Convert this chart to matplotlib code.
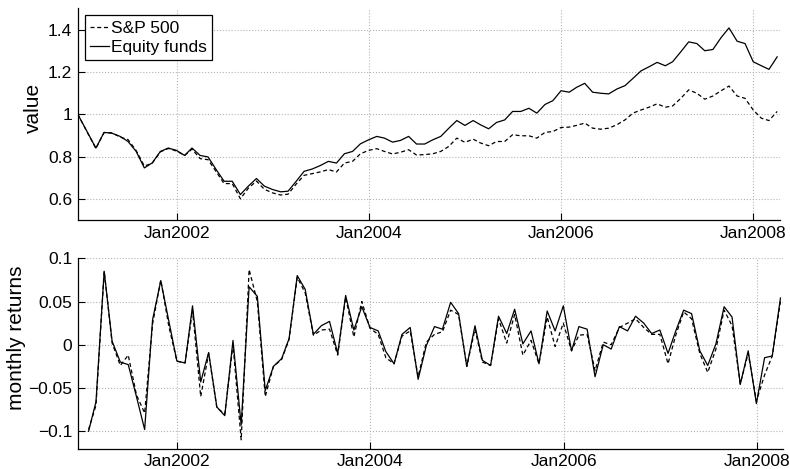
import numpy as np
import pandas as pd
import matplotlib
matplotlib.use("Agg")
import matplotlib.pyplot as plt
import matplotlib.dates as mdates
import matplotlib.ticker as mticker

plt.rcParams['font.family'] = ['Liberation Sans', 'DejaVu Sans']
plt.rcParams['font.size'] = 12.5

# dates: start value + month ends Jan 2001 .. Mar 2008
start_date = pd.Timestamp("2000-12-21")
ret_dates = pd.date_range("2001-01-31", "2008-03-31", freq="ME")
val_dates = pd.DatetimeIndex([start_date]).append(ret_dates)

# cumulative value
fund_value = [1.000, 0.905, 0.840, 0.914, 0.910, 0.895, 0.871, 0.824, 0.746, 0.770,
              0.824, 0.840, 0.829, 0.805, 0.840, 0.805, 0.798, 0.738, 0.683, 0.683,
              0.620, 0.660, 0.696, 0.660, 0.644, 0.633, 0.636, 0.683, 0.730, 0.741,
              0.757, 0.777, 0.769, 0.813, 0.824, 0.860, 0.879, 0.895, 0.887, 0.868,
              0.876, 0.895, 0.859, 0.859, 0.879, 0.895, 0.934, 0.970, 0.947, 0.970,
              0.950, 0.931, 0.961, 0.973, 1.013, 1.013, 1.028, 1.005, 1.046, 1.064,
              1.111, 1.104, 1.127, 1.146, 1.104, 1.099, 1.096, 1.119, 1.135, 1.169,
              1.205, 1.224, 1.245, 1.229, 1.248, 1.295, 1.342, 1.334, 1.300, 1.306,
              1.362, 1.408, 1.345, 1.334, 1.248, 1.229, 1.212, 1.271]
sp_value = [1.000, 0.903, 0.838, 0.913, 0.912, 0.892, 0.880, 0.828, 0.755, 0.768,
            0.822, 0.838, 0.826, 0.805, 0.835, 0.790, 0.785, 0.728, 0.672, 0.672,
            0.600, 0.650, 0.684, 0.645, 0.628, 0.618, 0.622, 0.670, 0.711, 0.719,
            0.727, 0.738, 0.727, 0.769, 0.777, 0.813, 0.829, 0.837, 0.824, 0.812,
            0.820, 0.832, 0.807, 0.809, 0.813, 0.824, 0.848, 0.887, 0.867, 0.882,
            0.864, 0.851, 0.871, 0.871, 0.903, 0.898, 0.898, 0.887, 0.914, 0.918,
            0.937, 0.939, 0.947, 0.958, 0.934, 0.929, 0.934, 0.950, 0.973, 1.005,
            1.020, 1.033, 1.049, 1.033, 1.039, 1.075, 1.115, 1.099, 1.071, 1.086,
            1.111, 1.133, 1.086, 1.075, 1.020, 0.981, 0.970, 1.013]

# monthly returns
fund_ret = [-0.100, -0.066, 0.085, 0.004, -0.020, -0.023, -0.060, -0.098, 0.029, 0.074,
            0.028, -0.019, -0.021, 0.045, -0.043, -0.009, -0.072, -0.082, 0.005, -0.093,
            0.067, 0.056, -0.053, -0.025, -0.016, 0.007, 0.080, 0.064, 0.012, 0.022,
            0.027, -0.010, 0.057, 0.017, 0.044, 0.020, 0.016, -0.008, -0.022, 0.012,
            0.020, -0.040, -0.001, 0.021, 0.018, 0.049, 0.036, -0.025, 0.022, -0.018,
            -0.024, 0.033, 0.013, 0.041, 0.001, 0.016, -0.022, 0.039, 0.016, 0.045,
            -0.007, 0.021, 0.018, -0.037, 0.000, -0.005, 0.021, 0.016, 0.033, 0.025,
            0.013, 0.017, -0.010, 0.015, 0.040, 0.036, -0.007, -0.024, 0.001, 0.044,
            0.032, -0.046, -0.007, -0.068, -0.015, -0.013, 0.054]
sp_ret = [-0.098, -0.070, 0.085, 0.002, -0.024, -0.012, -0.058, -0.079, 0.024, 0.075,
          0.022, -0.019, -0.021, 0.040, -0.060, -0.010, -0.073, -0.080, 0.000, -0.110,
          0.087, 0.050, -0.060, -0.025, -0.017, 0.006, 0.078, 0.060, 0.011, 0.017,
          0.018, -0.012, 0.055, 0.009, 0.050, 0.019, 0.012, -0.015, -0.022, 0.010,
          0.016, -0.037, 0.003, 0.012, 0.015, 0.040, 0.035, -0.025, 0.018, -0.020,
          -0.024, 0.030, 0.002, 0.035, -0.012, 0.005, -0.022, 0.032, -0.002, 0.025,
          -0.007, 0.011, 0.012, -0.030, 0.003, 0.000, 0.020, 0.025, 0.030, 0.020,
          0.012, 0.012, -0.022, 0.010, 0.038, 0.030, -0.010, -0.032, -0.005, 0.040,
          0.022, -0.045, -0.010, -0.065, -0.035, -0.013, 0.050]

xlim = (pd.Timestamp("2000-12-21"), pd.Timestamp("2008-04-11"))
dash = (0, (3.2, 2.2))

fig = plt.figure(figsize=(7.9, 4.69), dpi=100)
ax1 = fig.add_axes([0.0984, 0.531, 0.889, 0.451])
ax2 = fig.add_axes([0.0984, 0.0437, 0.8932, 0.4056])

ax1.plot(val_dates, sp_value, color='k', lw=0.9, ls=dash, label='S&P 500')
ax1.plot(val_dates, fund_value, color='k', lw=0.9, label='Equity funds')
ax2.plot(ret_dates, sp_ret, color='k', lw=0.9, ls=dash)
ax2.plot(ret_dates, fund_ret, color='k', lw=0.9)

ax1.set_ylim(0.5, 1.5)
ax1.set_yticks([0.6, 0.8, 1.0, 1.2, 1.4])
ax2.set_ylim(-0.12, 0.1)
ax2.set_yticks([-0.1, -0.05, 0, 0.05, 0.1])
ax1.set_ylabel('value', fontsize=15)
ax2.set_ylabel('monthly returns', fontsize=15)
ax1.yaxis.set_label_coords(-0.049, 0.53)
ax2.yaxis.set_label_coords(-0.074, 0.58)

fmt = mticker.FuncFormatter(lambda v, p: ('%g' % round(v, 4)).replace('-', '\u2212'))
for ax in (ax1, ax2):
    ax.set_xlim(*xlim)
    ax.xaxis.set_major_locator(mdates.YearLocator(2))
    ax.xaxis.set_major_formatter(mdates.DateFormatter('%b%Y'))
    ax.yaxis.set_major_formatter(fmt)
    ax.grid(True, color='#b5b5b5', ls=':', lw=0.8)
    ax.tick_params(direction='in', length=5, width=0.8, pad=4)
    ax.spines['top'].set_visible(False)
    ax.spines['right'].set_visible(False)
    ax.spines['left'].set_linewidth(0.9)
    ax.spines['bottom'].set_linewidth(0.9)

leg = ax1.legend(loc='upper left', fancybox=False, edgecolor='k', framealpha=1,
                 borderpad=0.3, handlelength=1.1, handletextpad=0.1,
                 labelspacing=0.25, borderaxespad=0.4)
leg.get_frame().set_linewidth(0.9)

fig.savefig('out.png', dpi=100)
